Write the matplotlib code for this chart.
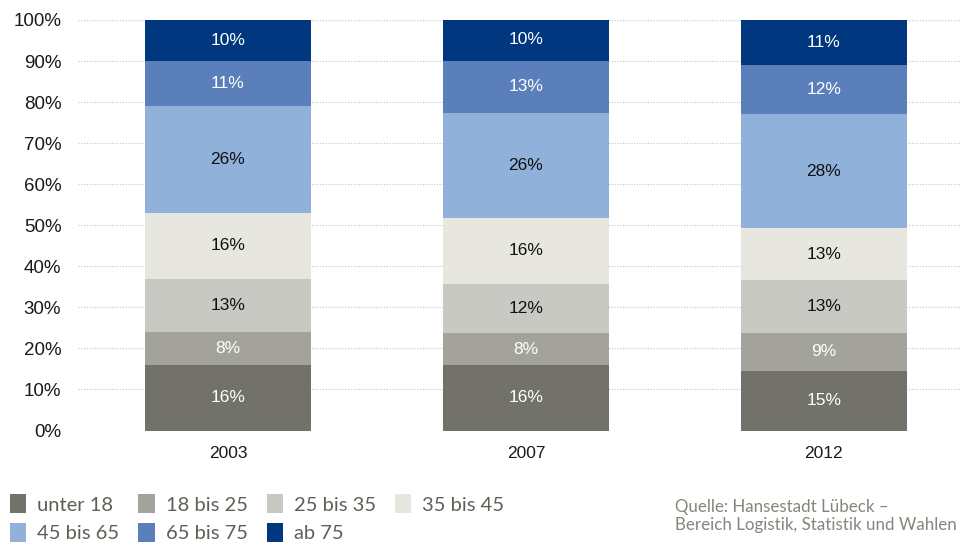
import matplotlib
matplotlib.use("Agg")
import matplotlib.pyplot as plt
import numpy as np

# Anteile der Altersgruppen (in %), gelesen aus der Grafik
years = ["2003", "2007", "2012"]
groups = ["unter 18", "18 bis 25", "25 bis 35", "35 bis 45",
          "45 bis 65", "65 bis 75", "ab 75"]
unter_18 = [16.0, 15.9, 14.6]
bis_25 = [8.1, 7.8, 9.1]
bis_35 = [12.9, 12.0, 12.9]
bis_45 = [16.1, 16.1, 12.7]
bis_65 = [25.9, 25.6, 27.8]
bis_75 = [11.0, 12.7, 12.0]
ab_75 = [10.2, 10.2, 11.0]
series = [unter_18, bis_25, bis_35, bis_45, bis_65, bis_75, ab_75]

colors = ["#72726b", "#a3a39b", "#c9c9c3", "#e7e7df",
          "#8fb1da", "#5b7fba", "#00377f"]
label_colors = ["white", "white", "#111111", "#111111",
                "#111111", "white", "white"]

num_font = "Liberation Sans"
leg_font = "Lato"

fig = plt.figure(figsize=(9.61, 5.44), dpi=100)
ax = fig.add_axes([78 / 961, 1 - 430.5 / 544, 1 - 78 / 961, (430.5 - 20) / 544])

x = np.arange(len(years))
bottom = np.zeros(len(years))
handles = []
for vals, col, lcol, name in zip(series, colors, label_colors, groups):
    vals = np.array(vals)
    bars = ax.bar(x, vals, bottom=bottom, width=0.557, color=col,
                  zorder=3, label=name)
    handles.append(bars)
    for xi, b, v in zip(x, bottom, vals):
        ax.text(xi, b + v / 2, f"{round(v)}%", ha="center", va="center",
                color=lcol, fontsize=12.5, family=num_font, zorder=4)
    bottom += vals

ax.set_xlim(-0.503, 2.46)
ax.set_ylim(0, 100)
ax.set_yticks(range(0, 101, 10))
ax.set_yticklabels([f"{t}%" for t in range(0, 101, 10)], family=num_font, fontsize=13.5)
ax.set_xticks(x)
ax.set_xticklabels(years, family=num_font, fontsize=12.5)
ax.grid(axis="y", linestyle=(0, (1, 1.5)), color="#c4c4c4", linewidth=0.8, zorder=0)
for s in ax.spines.values():
    s.set_visible(False)
ax.tick_params(axis="y", length=0, pad=12, labelcolor="#1a1a1a")
ax.tick_params(axis="x", length=0, pad=11, labelcolor="#1a1a1a")

# Legende zeilenweise: Reihenfolge fuer 4 Spalten umsortieren
order = [0, 4, 1, 5, 2, 6, 3]
leg = fig.legend([handles[i] for i in order], [groups[i] for i in order],
                 ncol=4, loc="upper left", bbox_to_anchor=(10 / 961, 1 - 494 / 544),
                 frameon=False, handlelength=0.8, handleheight=1.1,
                 handletextpad=0.55, columnspacing=0.95, labelspacing=0.45,
                 borderaxespad=0, borderpad=0.0,
                 prop={"family": leg_font, "size": 14.5})
for t in leg.get_texts():
    t.set_color("#5f5f55")

fig.text(675 / 961, 1 - 516 / 544, "Quelle: Hansestadt Lübeck –\nBereich Logistik, Statistik und Wahlen",
         ha="left", va="center", fontsize=12.2, family=leg_font,
         color="#85857b", linespacing=1.2)

fig.savefig("out.png", dpi=100)
